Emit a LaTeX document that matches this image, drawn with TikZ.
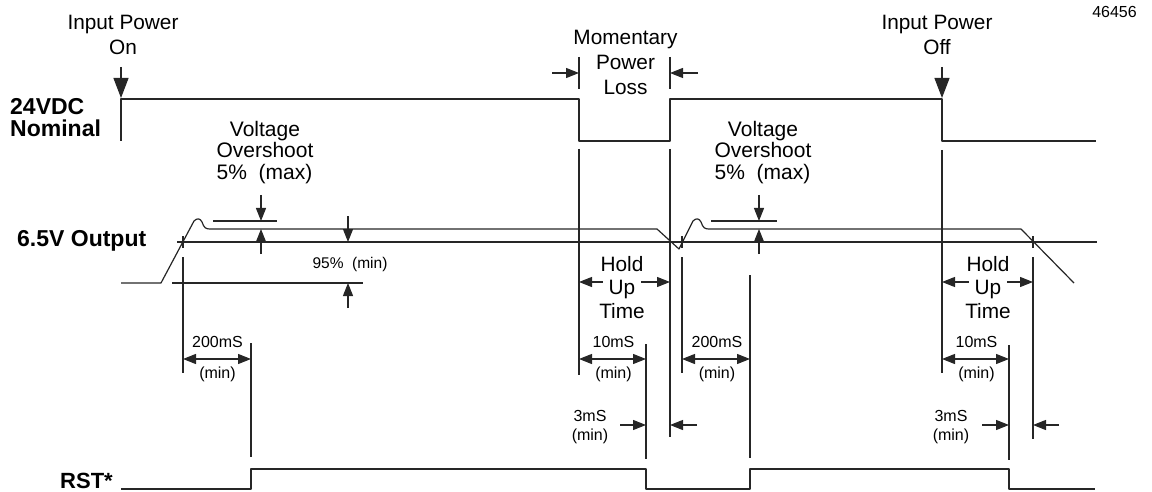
\documentclass[tikz,border=0pt]{standalone}
\usepackage{fontspec}
\setmainfont{Liberation Sans}
\usetikzlibrary{arrows.meta}
\begin{document}
\begin{tikzpicture}[x=1pt,y=-1pt,
  wave/.style={line width=1.2pt, draw=black!85, line join=round},
  guide/.style={line width=1.1pt, draw=black!85},
  dimarr/.style={line width=1.1pt, draw=black!85, -{Triangle[length=13pt,width=10pt]}},
  dimboth/.style={line width=1.1pt, draw=black!85, {Triangle[length=13pt,width=10pt]}-{Triangle[length=13pt,width=10pt]}},
  bigarr/.style={line width=1.1pt, draw=black!85, -{Triangle[length=20pt,width=15pt]}},
  lbl/.style={font=\fontsize{20.8}{24}\selectfont, inner sep=0pt, anchor=base},
  sml/.style={font=\fontsize{16}{19}\selectfont, inner sep=0pt, anchor=base},
  bold/.style={font=\fontsize{23}{26}\selectfont\bfseries, inner sep=0pt, anchor=base west},
  gapfill/.style={fill=white, inner xsep=6pt, inner ysep=2pt},
]
\useasboundingbox (0,0) rectangle (1152,492);

% ---- figure number
\node[sml] (fig) at (1114.5,18) {46456};

% ---- left labels
\node[bold] (l24a) at (10,115) {24VDC};
\node[bold] (l24b) at (10,137) {Nominal};
\node[bold] (lout) at (17,247) {6.5V Output};
\node[bold, font=\fontsize{22}{26}\selectfont\bfseries] (lrst) at (60,488) {RST*};

% ---- top labels and arrows
\node[lbl] (on1) at (123,30) {Input Power};
\node[lbl] (on2) at (123,55) {On};
\draw[bigarr] (121,67) -- (121,98);
\node[lbl] (off1) at (937,30) {Input Power};
\node[lbl] (off2) at (937,55) {Off};
\draw[bigarr] (942,67) -- (942,98);

\node[lbl] (ml1) at (625.5,45) {Momentary};
\node[lbl] (ml2) at (625.5,70) {Power};
\node[lbl] (ml3) at (625.5,95) {Loss};
\draw[guide] (579,57) -- (579,89);
\draw[guide] (670,57) -- (670,89);
\draw[dimarr] (552,73) -- (579,73);
\draw[dimarr] (698,73) -- (670,73);

% ---- 24VDC waveform
\draw[wave] (121,141) -- (121,99) -- (579,99) -- (579,141) -- (670,141) -- (670,99)
  -- (942,99) -- (942,141) -- (1096,141);

% ---- 6.5V output waveform
\draw[wave] (177,242) -- (1097,242);
\draw[wave] (121,283) -- (161,283) -- (194,221)
  .. controls (197,218) and (200,218) .. (202,222)
  .. controls (204,228) and (206,229) .. (210,229)
  -- (657,229) -- (679,249) -- (693,221)
  .. controls (696,218) and (699,218) .. (701,222)
  .. controls (703,228) and (705,229) .. (709,229)
  -- (1021,229) -- (1074,283);
\draw[guide] (172,283) -- (363,283);
\draw[guide] (213,221) -- (277,221);
\draw[guide] (711,221) -- (777,221);
% small crossing ticks
\draw[guide] (183,236) -- (183,248);
\draw[guide] (682,236) -- (682,248);
\draw[guide] (1033,236) -- (1033,248);

% overshoot labels and arrows
\node[lbl, font=\fontsize{21}{24}\selectfont] (vo1a) at (265,137) {Voltage};
\node[lbl, font=\fontsize{21}{24}\selectfont] (vo1b) at (265,158) {Overshoot};
\node[lbl, font=\fontsize{21}{24}\selectfont] (vo1c) at (264.5,180) {5\%\ \ (max)};
\draw[dimarr] (261,195) -- (261,221);
\draw[dimarr] (261,254) -- (261,229);
\node[lbl, font=\fontsize{21}{24}\selectfont] (vo2a) at (763,137) {Voltage};
\node[lbl, font=\fontsize{21}{24}\selectfont] (vo2b) at (763,158) {Overshoot};
\node[lbl, font=\fontsize{21}{24}\selectfont] (vo2c) at (762.5,180) {5\%\ \ (max)};
\draw[dimarr] (759,195) -- (759,221);
\draw[dimarr] (759,254) -- (759,229);

% 95% (min)
\node[sml, font=\fontsize{15.5}{18}\selectfont] (p95) at (350,268) {95\%\ \ (min)};
\draw[dimarr] (348,216) -- (348,242);
\draw[dimarr] (348,308) -- (348,283);

% ---- vertical guide lines
\draw[guide] (183,257) -- (183,373);
\draw[guide] (251,343) -- (251,457);
\draw[guide] (579,149) -- (579,375);
\draw[guide] (670,149) -- (670,437);
\draw[guide] (646,344) -- (646,459);
\draw[guide] (682,257) -- (682,373);
\draw[guide] (750,275) -- (750,458);
\draw[guide] (942,150) -- (942,373);
\draw[guide] (1009,345) -- (1009,460);
\draw[guide] (1033,257) -- (1033,439);

% ---- hold up time
\draw[dimboth] (579,282) -- (670,282);
\node[lbl] (h1a) at (622,271) {Hold};
\node[lbl, gapfill] (h1b) at (622,294) {Up};
\node[lbl] (h1c) at (622,318) {Time};
\draw[dimboth] (942,282) -- (1033,282);
\node[lbl] (h2a) at (988,271) {Hold};
\node[lbl, gapfill] (h2b) at (988,294) {Up};
\node[lbl] (h2c) at (988,318) {Time};

% ---- timing dimensions
\draw[dimboth] (183,359) -- (251,359);
\node[sml] (t1a) at (217.5,347) {200mS};
\node[sml] (t1b) at (217.5,378) {(min)};
\draw[dimboth] (579,359) -- (646,359);
\node[sml] (t2a) at (613.5,347) {10mS};
\node[sml] (t2b) at (613.5,378) {(min)};
\draw[dimboth] (682,359) -- (750,359);
\node[sml] (t3a) at (717,347) {200mS};
\node[sml] (t3b) at (717,378) {(min)};
\draw[dimboth] (942,359) -- (1009,359);
\node[sml] (t4a) at (976.5,347) {10mS};
\node[sml] (t4b) at (976.5,378) {(min)};

% 3mS
\node[sml] (s1a) at (590,421) {3mS};
\node[sml] (s1b) at (590,440) {(min)};
\draw[dimarr] (620,425) -- (646,425);
\draw[dimarr] (697,425) -- (670,425);
\node[sml] (s2a) at (951,421) {3mS};
\node[sml] (s2b) at (951,440) {(min)};
\draw[dimarr] (982,425) -- (1009,425);
\draw[dimarr] (1059,425) -- (1033,425);

% ---- RST* waveform
\draw[wave] (121,489) -- (251,489) -- (251,469) -- (646,469) -- (646,489) -- (750,489)
  -- (750,469) -- (1009,469) -- (1009,489) -- (1095,489);
\end{tikzpicture}
\end{document}
